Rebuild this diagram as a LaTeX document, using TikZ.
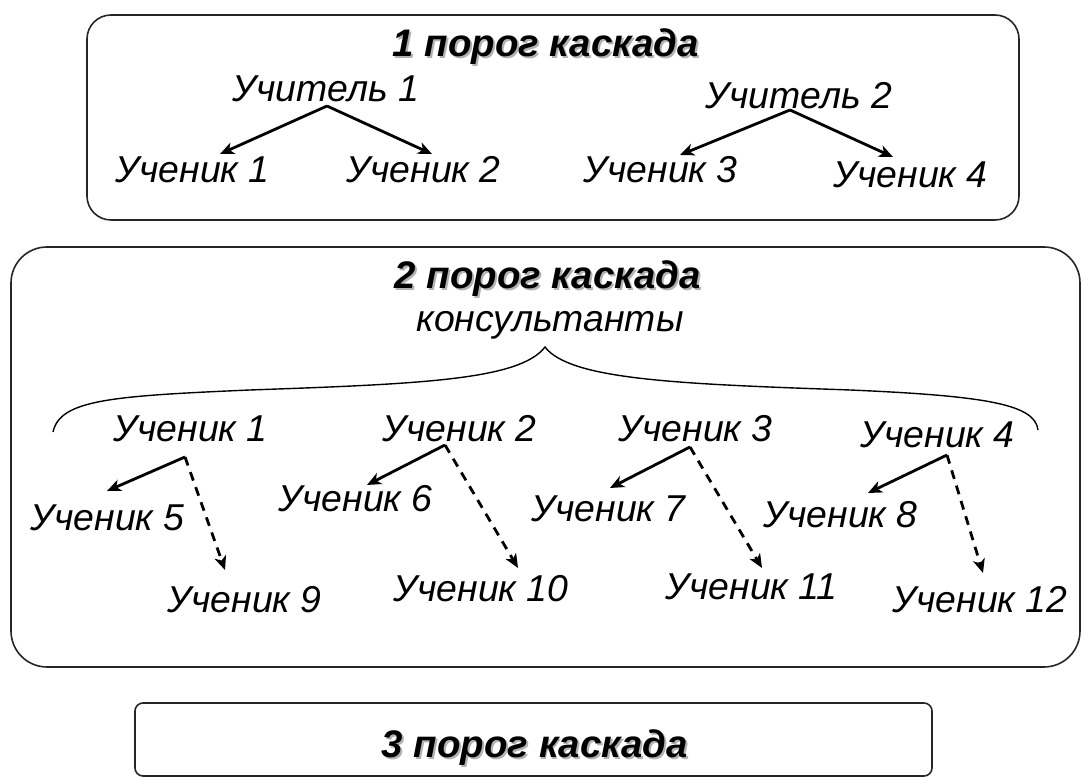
\documentclass[tikz,border=0pt]{standalone}
\usepackage{fontspec}
\setmainfont{Liberation Sans}
\usetikzlibrary{arrows.meta}

\begin{document}
\begin{tikzpicture}[
x=0.5pt, y=-0.5pt,
frame/.style={draw=black!85, line width=0.8pt},
lbl/.style={inner sep=0pt, anchor=base west,
  font=\fontsize{18.7}{22}\selectfont\itshape},
ttl/.style={inner sep=0pt, anchor=base,
  font=\fontsize{19.2}{22}\selectfont\bfseries\itshape},
ttlshadow/.style={ttl, text=black!30},
solidarr/.style={->, line width=1.4pt},
dasharr/.style={->, line width=1.4pt, dash pattern=on 4.5pt off 3.5pt},
>={Stealth[length=7pt,width=6pt,inset=2pt]}
]
\useasboundingbox (0,0) rectangle (1084,779);

% frames
\draw[frame, rounded corners=12pt] (87,15) rectangle (1019,220);
\draw[frame, rounded corners=18pt] (11,247) rectangle (1080,667);
\draw[frame, rounded corners=4pt] (135,703) rectangle (932,776);

% 1st threshold
\node[ttlshadow] (title1s) at (548,59) {1 порог каскада};
\node[ttl] (title1) at (546,57) {1 порог каскада};

\node[lbl] (teach1) at (232,102) {Учитель 1};
\node[lbl] (teach2) at (705,109) {Учитель 2};
\node[lbl] (stud1) at (115,183) {Ученик 1};
\node[lbl] (stud2) at (346,183) {Ученик 2};
\node[lbl] (stud3) at (583,183) {Ученик 3};
\node[lbl] (stud4) at (833,188) {Ученик 4};

\draw[solidarr] ([shift={(95,4)}]teach1.base west) -- ([shift={(105,-29)}]stud1.base west);
\draw[solidarr] ([shift={(95,4)}]teach1.base west) -- ([shift={(86,-29)}]stud2.base west);
\draw[solidarr] ([shift={(85,1)}]teach2.base west) -- ([shift={(97,-28)}]stud3.base west);
\draw[solidarr] ([shift={(85,1)}]teach2.base west) -- ([shift={(60,-31)}]stud4.base west);

% 2nd threshold
\node[ttlshadow] (title2s) at (550,291) {2 порог каскада};
\node[ttl] (title2) at (548,289) {2 порог каскада};
\node[lbl, anchor=base] (konsult) at (550,332) {консультанты};

\draw[line width=0.7pt] (53,432) .. controls (60,400) and (110,396) .. (250,390)
  .. controls (420,384) and (520,380) .. (545,347)
  .. controls (570,380) and (680,384) .. (850,390)
  .. controls (990,396) and (1035,405) .. (1038,430);

\node[lbl] (k1) at (113,442) {Ученик 1};
\node[lbl] (k2) at (382,442) {Ученик 2};
\node[lbl] (k3) at (618,442) {Ученик 3};
\node[lbl] (k4) at (860,448) {Ученик 4};
\node[lbl] (k5) at (30,531) {Ученик 5};
\node[lbl] (k6) at (278,512) {Ученик 6};
\node[lbl] (k7) at (531,522) {Ученик 7};
\node[lbl] (k8) at (763,528) {Ученик 8};
\node[lbl] (k9) at (167,613) {Ученик 9};
\node[lbl] (k10) at (393,602) {Ученик 10};
\node[lbl] (k11) at (665,600) {Ученик 11};
\node[lbl] (k12) at (892,613) {Ученик 12};

\draw[solidarr] ([shift={(72,15)}]k1.base west) -- ([shift={(77,-40)}]k5.base west);
\draw[dasharr] ([shift={(72,15)}]k1.base west) -- ([shift={(58,-43)}]k9.base west);
\draw[solidarr] ([shift={(63,3)}]k2.base west) -- ([shift={(89,-27)}]k6.base west);
\draw[dasharr] ([shift={(63,3)}]k2.base west) -- ([shift={(125,-34)}]k10.base west);
\draw[solidarr] ([shift={(72,5)}]k3.base west) -- ([shift={(79,-34)}]k7.base west);
\draw[dasharr] ([shift={(72,5)}]k3.base west) -- ([shift={(97,-32)}]k11.base west);
\draw[solidarr] ([shift={(87,7)}]k4.base west) -- ([shift={(105,-35)}]k8.base west);
\draw[dasharr] ([shift={(87,7)}]k4.base west) -- ([shift={(91,-40)}]k12.base west);

% 3rd threshold
\node[ttlshadow] (title3s) at (537,760) {3 порог каскада};
\node[ttl] (title3) at (535,758) {3 порог каскада};
\end{tikzpicture}
\end{document}
